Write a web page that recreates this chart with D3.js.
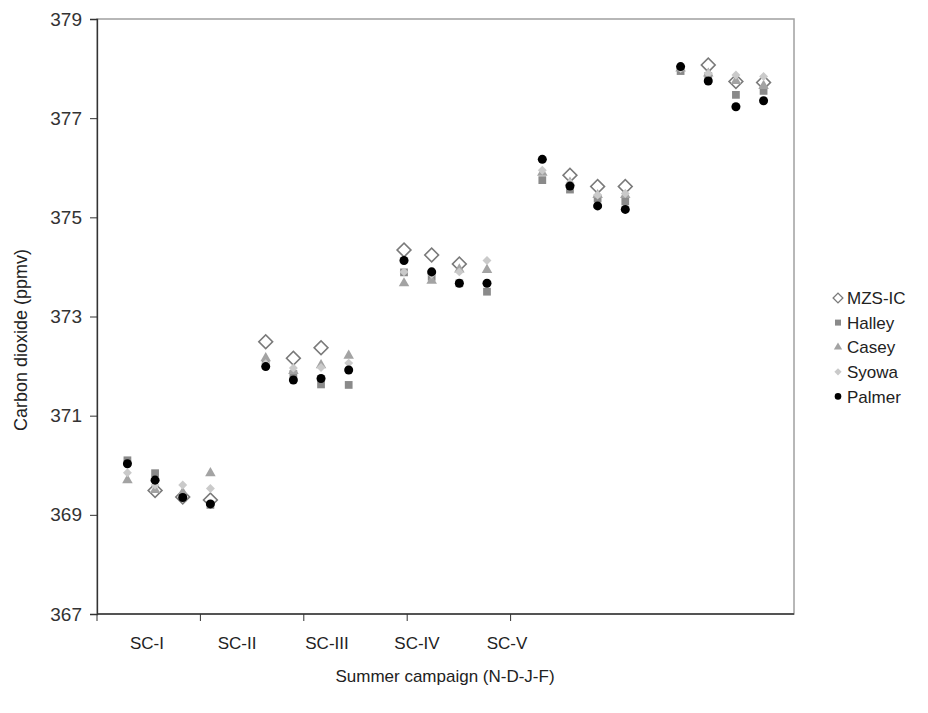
<!DOCTYPE html>
<html>
<head>
<meta charset="utf-8">
<script src="https://cdn.jsdelivr.net/npm/d3@7"></script>
<style>
  body { margin: 0; background: #fff; }
  svg text { font-family: "Liberation Sans", Arial, sans-serif; fill: #222; }
</style>
</head>
<body>
<div id="chart"></div>
<script>
(function(){
  'use strict';

  var campaigns = ['SC-I', 'SC-II', 'SC-III', 'SC-IV', 'SC-V'],
      months = ['N', 'D', 'J', 'F'],
      yTicks = [367, 369, 371, 373, 375, 377, 379];

  // values per campaign, months N-D-J-F (null = no point)
  var mzsIC  = [null, 369.49, 369.36, 369.30,  372.49, 372.16, 372.37, null,
                374.34, 374.24, 374.06, null,  null, 375.85, 375.62, 375.62,
                null, 378.07, 377.74, 377.72],
      halley = [370.10, 369.84, 369.35, 369.20,  372.05, 371.84, 371.63, 371.62,
                373.89, 373.80, 373.67, 373.50,  375.75, 375.56, 375.38, 375.32,
                377.95, 377.85, 377.47, 377.55],
      casey  = [369.70, 369.50, 369.45, 369.84,  372.16, 371.90, 372.02, 372.21,
                373.67, 373.72, 373.95, 373.94,  375.90, 375.70, 375.45, 375.45,
                378.00, 377.90, 377.75, 377.65],
      syowa  = [369.85, 369.60, 369.60, 369.53,  372.05, 371.96, 371.97, 372.06,
                373.90, 373.85, 373.90, 374.13,  375.95, 375.70, 375.45, 375.48,
                378.00, 377.90, 377.87, 377.84],
      palmer = [370.03, 369.70, 369.35, 369.22,  371.99, 371.72, 371.75, 371.92,
                374.13, 373.90, 373.67, 373.67,  376.17, 375.63, 375.23, 375.16,
                378.04, 377.75, 377.23, 377.35];

  var series = [
    {name: 'MZS-IC', vals: mzsIC,  sym: 'diamond', size: 95, fill: '#fff', stroke: '#7a7a7a', lsize: 48},
    {name: 'Halley', vals: halley, sym: 'square', size: 60, fill: '#8a8a8a', stroke: 'none', lsize: 36},
    {name: 'Casey',  vals: casey,  sym: 'triangle', size: 48, fill: '#a3a3a3', stroke: 'none', lsize: 30},
    {name: 'Syowa',  vals: syowa,  sym: 'smalldiamond', size: 40, fill: '#cacaca', stroke: 'none', lsize: 26},
    {name: 'Palmer', vals: palmer, sym: 'circle', size: 64, fill: '#000', stroke: 'none', lsize: 34}
  ];

  var w = 928, h = 713,
      left = 97, right = 794, top = 19, bottom = 614;

  var svg = d3.select('#chart').append('svg')
    .attr('width', w)
    .attr('height', h);

  var x = d3.scaleLinear()
      .domain([-0.1, 25.1])
      .range([left, right]),
      y = d3.scaleLinear()
      .domain([367, 379])
      .range([bottom, top]);

  // category tick marks and labels (placed as in the original)
  var xTick = d3.scaleBand()
      .domain(campaigns)
      .range([left, left + 5 * 103.4]),
      xLab = d3.scalePoint()
      .domain(campaigns)
      .range([147, 507]);

  // plot frame
  svg.append('rect')
    .attr('x', left).attr('y', top)
    .attr('width', right - left).attr('height', bottom - top)
    .style('fill', 'none')
    .style('stroke', '#a0a0a0')
    .style('stroke-width', 1.5);

  var yAxis = d3.axisLeft(y)
      .tickValues(yTicks)
      .tickSize(7)
      .tickPadding(8)
      .tickFormat(d3.format('d'));

  var gy = svg.append('g')
    .attr('transform', 'translate(' + left + ',0)')
    .call(yAxis);
  gy.select('.domain').style('stroke', '#333').style('stroke-width', 1.3);
  gy.selectAll('.tick line').style('stroke', '#333');
  gy.selectAll('.tick text')
    .style('font-size', '19px')
    .style('fill', '#333')
    .style('font-family', '"Liberation Sans", Arial, sans-serif');

  // x axis line and ticks
  svg.append('line')
    .attr('x1', left).attr('x2', right)
    .attr('y1', bottom).attr('y2', bottom)
    .style('stroke', '#333').style('stroke-width', 1.3);

  svg.selectAll('.xtick')
    .data(campaigns)
    .enter()
    .append('line')
    .attr('class', 'xtick')
    .attr('x1', function(d) { return xTick(d); })
    .attr('x2', function(d) { return xTick(d); })
    .attr('y1', bottom)
    .attr('y2', bottom + 7)
    .style('stroke', '#333');

  svg.selectAll('.xlab')
    .data(campaigns)
    .enter()
    .append('text')
    .attr('class', 'xlab')
    .attr('x', function(d) { return xLab(d); })
    .attr('y', bottom + 35)
    .attr('text-anchor', 'middle')
    .style('font-size', '17px')
    .text(function(d) { return d; });

  svg.append('text')
    .attr('x', 445)
    .attr('y', 682)
    .attr('text-anchor', 'middle')
    .style('font-size', '17px')
    .text('Summer campaign (N-D-J-F)');

  svg.append('text')
    .attr('transform', 'translate(27,' + 340 + ') rotate(-90)')
    .attr('text-anchor', 'middle')
    .style('font-size', '18px')
    .text('Carbon dioxide (ppmv)');

  function symPath(s, size) {
    if (s === 'diamond' || s === 'smalldiamond') return d3.symbol(d3.symbolSquare, size)();
    if (s === 'square') return d3.symbol(d3.symbolSquare, size)();
    if (s === 'triangle') return d3.symbol(d3.symbolTriangle, size)();
    return d3.symbol(d3.symbolCircle, size)();
  }
  function rot(s) {
    return (s === 'diamond' || s === 'smalldiamond') ? ' rotate(45)' : '';
  }

  var pts = svg.selectAll('.series')
    .data(series)
    .enter()
    .append('g')
    .attr('class', 'series');

  pts.selectAll('.pt')
    .data(function(s) {
      return s.vals.map(function(v, i) {
        return {v: v, i: Math.floor(i / months.length) * 5 + (i % months.length) + 1, s: s};
      }).filter(function(d) { return d.v !== null; });
    })
    .enter()
    .append('path')
    .attr('class', 'pt')
    .attr('d', function(d) { return symPath(d.s.sym, d.s.size); })
    .attr('transform', function(d) {
      return 'translate(' + x(d.i) + ',' + y(d.v) + ')' + rot(d.s.sym);
    })
    .style('fill', function(d) { return d.s.fill; })
    .style('stroke', function(d) { return d.s.stroke; })
    .style('stroke-width', 1.6);

  // legend
  var leg = svg.selectAll('.leg')
    .data(series)
    .enter()
    .append('g')
    .attr('class', 'leg')
    .attr('transform', function(d, i) { return 'translate(838,' + (298 + i * 24.6) + ')'; });

  leg.append('path')
    .attr('d', function(d) { return symPath(d.sym, d.lsize); })
    .attr('transform', function(d) { return rot(d.sym); })
    .style('fill', function(d) { return d.fill; })
    .style('stroke', function(d) { return d.stroke; })
    .style('stroke-width', 1.3);

  leg.append('text')
    .attr('x', 9)
    .attr('dy', '0.36em')
    .style('font-size', '17px')
    .text(function(d) { return d.name; });

}());
</script>
</body>
</html>
